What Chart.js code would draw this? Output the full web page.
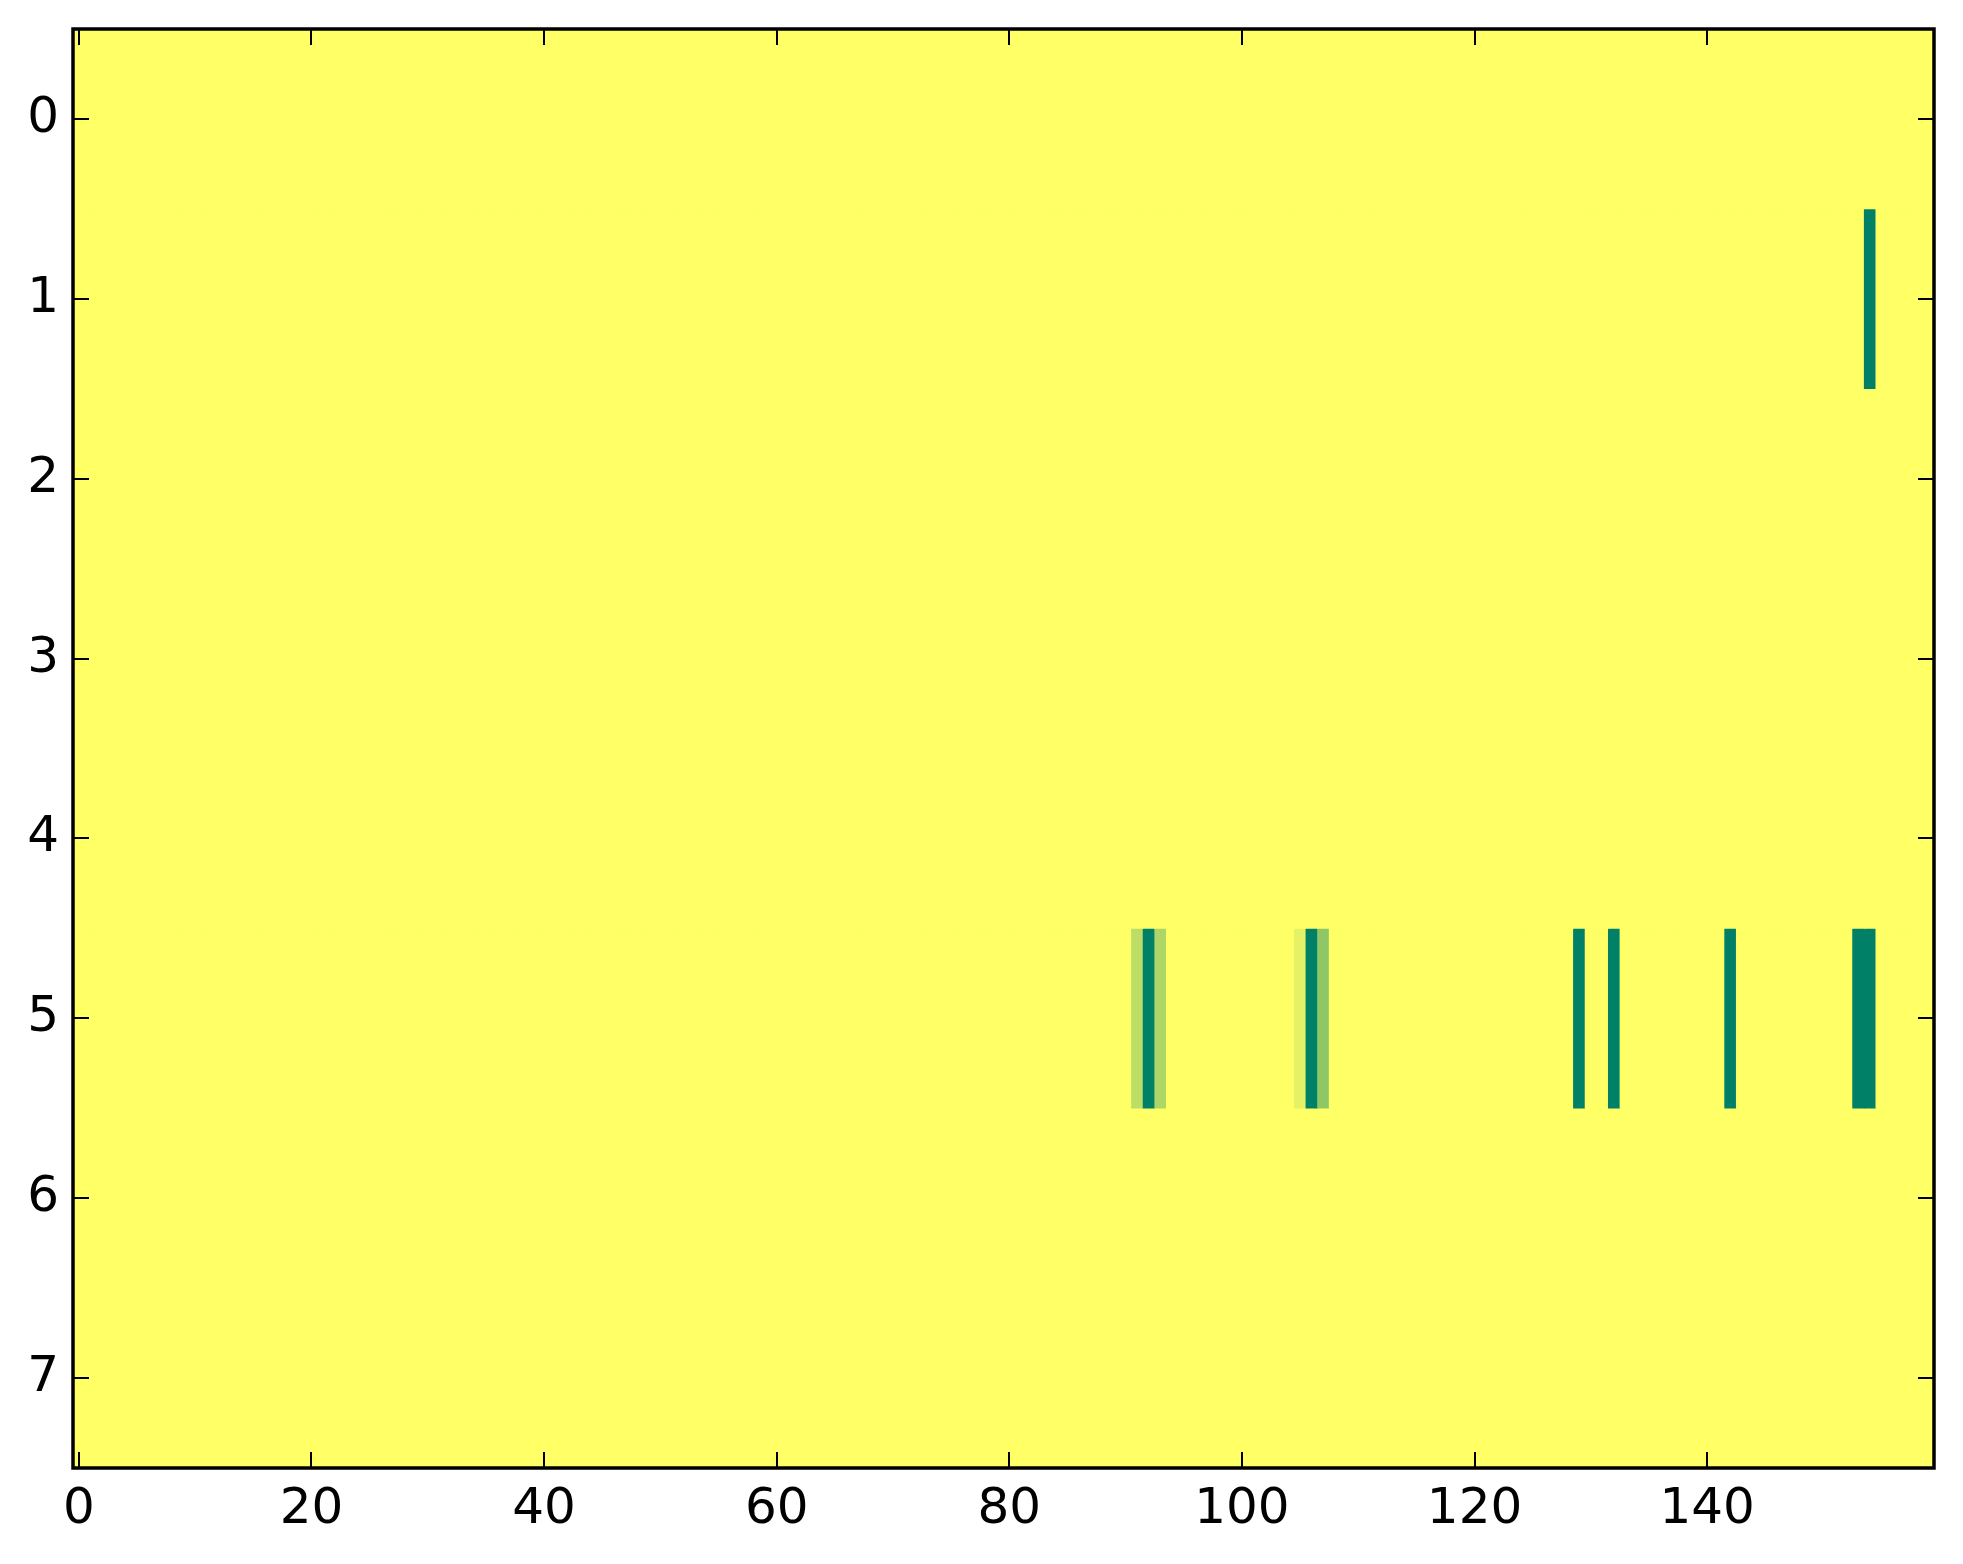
<!DOCTYPE html>
<html>
<head>
<meta charset="utf-8">
<script src="https://cdn.jsdelivr.net/npm/chart.js@4/dist/chart.umd.min.js"></script>
<style>
	body { margin: 0; background: #fff; }
	canvas { display: block; }
</style>
</head>
<body>
<canvas id="heatmap" width="1963" height="1564"></canvas>
<script>
// grid size and axis ticks
const nRows = 8;
const nCols = 160;
const xTickValues = [0, 20, 40, 60, 80, 100, 120, 140];
const yTickValues = [0, 1, 2, 3, 4, 5, 6, 7];

// every cell is at the top of the colormap except these ones
const baseValue = 1;
const cellRow = [1, 5, 5, 5, 5, 5, 5, 5, 5, 5, 5, 5];
const cellCol = [154, 91, 92, 93, 105, 106, 107, 129, 132, 142, 153, 154];
const cellValue = [0, 0.74, 0, 0.68, 0.9, 0, 0.56, 0, 0, 0, 0, 0];

// matplotlib "summer" colormap
function summer(v) {
	const r = Math.round(255 * v);
	const g = Math.round(255 * (0.5 + 0.5 * v));
	return `rgb(${r}, ${g}, 102)`;
}

const grid = [];
for (let r = 0; r < nRows; r++) {
	grid.push(new Array(nCols).fill(baseValue));
}
cellRow.forEach((r, i) => {
	grid[r][cellCol[i]] = cellValue[i];
});

const columns = [...Array(nCols).keys()];

const datasets = grid.map((rowValues, r) => ({
	label: 'row ' + r,
	data: columns.map(c => ({ x: c, y: [r - 0.5, r + 0.5] })),
	backgroundColor: rowValues.map(v => summer(v)),
	borderWidth: 0,
	grouped: false,
	barPercentage: 1,
	categoryPercentage: 1
}));

const tickFont = { family: 'DejaVu Sans', size: 50 };

// inward ticks on all four sides plus the frame, like classic matplotlib
const framePlugin = {
	id: 'frame',
	afterDatasetsDraw(chart) {
		const { ctx, chartArea: { left, right, top, bottom }, scales: { x, y } } = chart;
		const len = 16;
		ctx.save();
		ctx.strokeStyle = '#000';
		ctx.lineWidth = 2;
		ctx.beginPath();
		xTickValues.forEach(v => {
			const px = Math.round(x.getPixelForValue(v));
			ctx.moveTo(px, bottom);
			ctx.lineTo(px, bottom - len);
			ctx.moveTo(px, top);
			ctx.lineTo(px, top + len);
		});
		yTickValues.forEach(v => {
			const py = Math.round(y.getPixelForValue(v));
			ctx.moveTo(left, py);
			ctx.lineTo(left + len, py);
			ctx.moveTo(right, py);
			ctx.lineTo(right - len, py);
		});
		ctx.stroke();
		ctx.lineWidth = 3.5;
		ctx.strokeRect(left, top, right - left, bottom - top);
		ctx.restore();
	}
};

new Chart(document.getElementById('heatmap').getContext('2d'), {
	type: 'bar',
	data: { datasets: datasets },
	options: {
		responsive: false,
		devicePixelRatio: 1,
		animation: false,
		layout: {
			padding: { left: 0, top: 29, right: 29, bottom: 0 }
		},
		plugins: {
			legend: { display: false },
			tooltip: { enabled: false }
		},
		scales: {
			x: {
				type: 'linear',
				offset: false,
				min: -0.5,
				max: nCols - 0.5,
				grid: { display: false, drawTicks: false },
				border: { display: false },
				ticks: { color: '#000', font: tickFont, padding: 12, maxRotation: 0 },
				afterBuildTicks: scale => {
					scale.ticks = xTickValues.map(v => ({ value: v }));
				},
				afterFit: scale => {
					scale.height = 96;
					scale.paddingLeft = 0;
					scale.paddingRight = 0;
				}
			},
			y: {
				type: 'linear',
				reverse: true,
				min: -0.5,
				max: nRows - 0.5,
				grid: { display: false, drawTicks: false },
				border: { display: false },
				ticks: { color: '#000', font: tickFont, padding: 14 },
				afterBuildTicks: scale => {
					scale.ticks = yTickValues.map(v => ({ value: v }));
				},
				afterFit: scale => {
					scale.width = 73;
					scale.paddingTop = 0;
					scale.paddingBottom = 0;
				}
			}
		}
	},
	plugins: [framePlugin]
});
</script>
</body>
</html>
